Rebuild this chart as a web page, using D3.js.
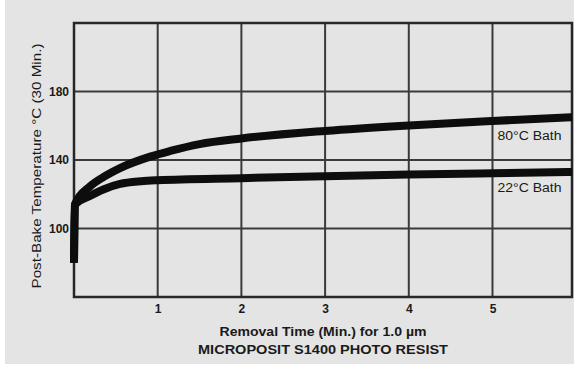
<!DOCTYPE html>
<html>
<head>
<meta charset="utf-8">
<script src="https://cdn.jsdelivr.net/npm/d3@7"></script>
<style>
  body { margin: 0; background: #ffffff; }
  text { font-family: "Liberation Sans", Arial, sans-serif; fill: #1a1a1a; }
</style>
</head>
<body>
<div id="plot"></div>
<script>
// Chart data
var xTicks = [1, 2, 3, 4, 5];
var yTicks = [100, 140, 180];

// 80°C bath curve
var bath80Time = [0, 0.01, 0.19, 0.35, 0.55, 0.91, 1.15, 1.5, 2.0, 3.0, 4.0, 5.0, 5.95];
var bath80Temp = [80, 114, 124.5, 130, 135.3, 142, 145.3, 149.3, 152.6, 157, 160.2, 162.8, 165];

// 22°C bath curve
var bath22Time = [0, 0.01, 0.19, 0.35, 0.55, 0.8, 1.0, 2.0, 3.0, 4.0, 5.0, 5.95];
var bath22Temp = [80, 114, 119, 122.8, 126, 127.6, 128.2, 129.4, 130.5, 131.5, 132.3, 133];

var seriesNames = ["80°C Bath", "22°C Bath"];
var labelTemp = [151.7, 121.3];

var svgWidth = 574;
var svgHeight = 366;

// plot frame
var frame = { left: 74, right: 572, top: 23, bottom: 297 };

var svg = d3.select("#plot")
  .append("svg")
  .attr("width", svgWidth)
  .attr("height", svgHeight);

// paper background
svg.append("rect")
  .attr("x", 5).attr("y", 0)
  .attr("width", svgWidth - 5).attr("height", svgHeight - 2)
  .attr("fill", "#e4e4e4");

var x = d3.scaleLinear()
  .domain([0, 5.95])
  .range([frame.left, frame.right]);

var y = d3.scaleLinear()
  .domain([60, 220])
  .range([frame.bottom, frame.top]);

// grid lines
svg.append("g")
  .selectAll("line")
  .data(xTicks)
  .enter()
  .append("line")
  .attr("x1", d => x(d)).attr("x2", d => x(d))
  .attr("y1", frame.top).attr("y2", frame.bottom)
  .attr("stroke", "#3a3a3a")
  .attr("stroke-width", 2);

svg.append("g")
  .selectAll("line")
  .data(yTicks)
  .enter()
  .append("line")
  .attr("x1", frame.left).attr("x2", frame.right)
  .attr("y1", d => y(d)).attr("y2", d => y(d))
  .attr("stroke", "#3a3a3a")
  .attr("stroke-width", 2);

// frame
svg.append("rect")
  .attr("x", frame.left).attr("y", frame.top)
  .attr("width", frame.right - frame.left)
  .attr("height", frame.bottom - frame.top)
  .attr("fill", "none")
  .attr("stroke", "#262626")
  .attr("stroke-width", 2.5);

// axes (labels only, lines drawn by the frame)
var bottomAxis = d3.axisBottom(x).tickValues(xTicks).tickFormat(d3.format("d")).tickSize(0).tickPadding(7);
var leftAxis = d3.axisLeft(y).tickValues(yTicks).tickFormat(d3.format("d")).tickSize(0).tickPadding(4);

svg.append("g")
  .attr("transform", `translate(0, ${frame.bottom})`)
  .call(bottomAxis)
  .call(g => g.select(".domain").remove())
  .selectAll("text")
  .style("font-family", "Liberation Sans, Arial, sans-serif")
  .style("font-size", "12px")
  .style("font-weight", "bold")
  .attr("fill", "#1a1a1a");

svg.append("g")
  .attr("transform", `translate(${frame.left - 1}, 0)`)
  .call(leftAxis)
  .call(g => g.select(".domain").remove())
  .selectAll("text")
  .style("font-family", "Liberation Sans, Arial, sans-serif")
  .style("font-size", "12px")
  .style("font-weight", "bold")
  .attr("fill", "#1a1a1a");

// curves
var line = d3.line()
  .x(d => x(d[0]))
  .y(d => y(d[1]))
  .curve(d3.curveMonotoneX);

var curves = [
  d3.zip(bath80Time, bath80Temp),
  d3.zip(bath22Time, bath22Temp)
];

svg.append("g")
  .selectAll("path")
  .data(curves)
  .enter()
  .append("path")
  .attr("d", line)
  .attr("fill", "none")
  .attr("stroke", "#0d0d0d")
  .attr("stroke-width", 8)
  .attr("stroke-linecap", "butt");

// curve labels
svg.append("g")
  .selectAll("text")
  .data(seriesNames)
  .enter()
  .append("text")
  .attr("x", x(5) + 5)
  .attr("y", (d, i) => y(labelTemp[i]))
  .attr("textLength", 64)
  .attr("lengthAdjust", "spacingAndGlyphs")
  .style("font-size", "12.5px")
  .text(d => d);

// axis titles
svg.append("text")
  .attr("transform", `translate(41, 166) rotate(-90)`)
  .attr("text-anchor", "middle")
  .attr("textLength", 245)
  .attr("lengthAdjust", "spacingAndGlyphs")
  .style("font-size", "13px")
  .text("Post-Bake Temperature °C (30 Min.)");

svg.append("text")
  .attr("x", 323).attr("y", 336)
  .attr("text-anchor", "middle")
  .attr("textLength", 207)
  .attr("lengthAdjust", "spacingAndGlyphs")
  .style("font-size", "13px")
  .style("font-weight", "bold")
  .text("Removal Time (Min.) for 1.0 µm");

svg.append("text")
  .attr("x", 323).attr("y", 354)
  .attr("text-anchor", "middle")
  .attr("textLength", 250)
  .attr("lengthAdjust", "spacingAndGlyphs")
  .style("font-size", "13px")
  .style("font-weight", "bold")
  .text("MICROPOSIT S1400  PHOTO RESIST");
</script>
</body>
</html>
